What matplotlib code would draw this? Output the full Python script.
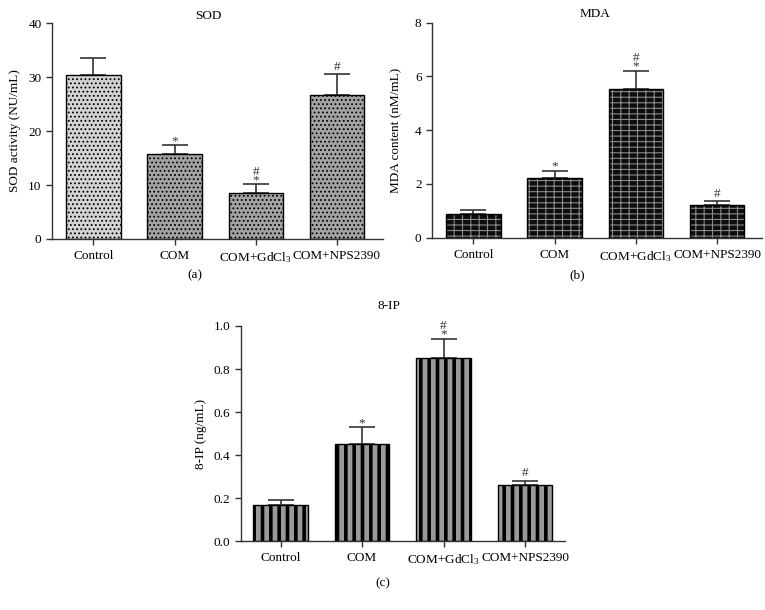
import matplotlib
matplotlib.use('Agg')
import matplotlib.pyplot as plt
import numpy as np

plt.rcParams['font.family'] = ['Liberation Serif', 'DejaVu Serif']
plt.rcParams['mathtext.fontset'] = 'custom'
plt.rcParams['mathtext.rm'] = 'Liberation Serif'
plt.rcParams['mathtext.default'] = 'rm'

groups = ['Control', 'COM', 'COM+GdCl$_3$', 'COM+NPS2390']

sod_mean = [30.4, 15.7, 8.5, 26.7]
sod_err = [3.1, 1.7, 1.6, 3.8]
sod_marks = ['', '*', '#\n*', '#']

mda_mean = [0.88, 2.22, 5.55, 1.2]
mda_err = [0.14, 0.28, 0.67, 0.15]
mda_marks = ['', '*', '#\n*', '#']

ip_mean = [0.17, 0.45, 0.85, 0.26]
ip_err = [0.02, 0.08, 0.09, 0.02]
ip_marks = ['', '*', '#\n*', '#']

fs = 9.5


def bars(ax, means, face, hatch, hatch_color, hatch_lw):
    plt.rcParams['hatch.linewidth'] = hatch_lw
    x = np.arange(len(means))
    b = ax.bar(x, means, width=0.67, color=face, edgecolor=hatch_color,
               hatch=hatch, linewidth=0, zorder=2)
    for p in b:
        if hasattr(p, 'set_hatch_linewidth'):
            p.set_hatch_linewidth(hatch_lw)
    # black outline on top
    ax.bar(x, means, width=0.67, fill=False, edgecolor='black',
           linewidth=1.0, zorder=3)


def panel(ax, means, errs, marks, ymax, yticks, ylabel, xlim, lpad):
    x = np.arange(len(means))
    ax.errorbar(x, means, yerr=[np.zeros(len(errs)), errs], fmt='none',
                ecolor='#333333', elinewidth=1.2, capsize=9.7, capthick=1.2,
                zorder=1)
    for i, m in enumerate(marks):
        top = means[i] + errs[i]
        if not m:
            continue
        # '*' sits high in the font, '#' sits on the baseline
        off = 3.3 if m == '#' else 0.8
        ax.annotate(m, (i, top), xytext=(0, off), textcoords='offset points',
                    ha='center', va='baseline', fontsize=9.5, color='#333333',
                    linespacing=0.6, multialignment='center')
    ax.set_ylim(0, ymax)
    ax.set_xlim(*xlim)
    ax.set_yticks(yticks)
    ax.set_xticks(x)
    ax.set_xticklabels(groups, fontsize=fs)
    ax.tick_params(axis='y', labelsize=fs, length=4, width=1, direction='out',
                   color='#333333')
    ax.tick_params(axis='x', length=4.5, width=1, direction='out', color='#333333')
    ax.set_ylabel(ylabel, fontsize=fs, labelpad=lpad)
    for s in ['top', 'right']:
        ax.spines[s].set_visible(False)
    for s in ['left', 'bottom']:
        ax.spines[s].set_linewidth(1.0)
        ax.spines[s].set_color('#333333')


fig = plt.figure(figsize=(7.65, 6.10), dpi=100)

ax1 = fig.add_axes([0.068, 0.6082, 0.433, 0.354])
bars(ax1, sod_mean[:1], '#d3d3d3', '....', 'black', 0.8)
ax1.bar(np.arange(1, 4), sod_mean[1:], width=0.67, color='#a3a3a3',
        edgecolor='black', hatch='....', linewidth=0, zorder=2)
ax1.bar(np.arange(1, 4), sod_mean[1:], width=0.67, fill=False,
        edgecolor='black', linewidth=1.0, zorder=3)
panel(ax1, sod_mean, sod_err, sod_marks, 40, [0, 10, 20, 30, 40],
      'SOD activity (NU/mL)', (-0.51, 3.57), 5)

ax2 = fig.add_axes([0.5647, 0.6103, 0.431, 0.3525])
bars(ax2, mda_mean, '#0d0d0d', '---||', '#8a8a8a', 0.8)
panel(ax2, mda_mean, mda_err, mda_marks, 8, [0, 2, 4, 6, 8],
      'MDA content (nM/mL)', (-0.51, 3.55), 9)

ax3 = fig.add_axes([0.315, 0.1126, 0.4235, 0.353])
plt.rcParams['hatch.linewidth'] = 2.6
x3 = np.arange(len(ip_mean))
b3 = ax3.bar(x3, ip_mean, width=0.67, color='#9a9a9a', edgecolor='black',
             hatch='||', linewidth=0, zorder=2)
for p in b3:
    if hasattr(p, 'set_hatch_linewidth'):
        p.set_hatch_linewidth(2.6)
ax3.bar(x3, ip_mean, width=0.67, fill=False, edgecolor='black',
        linewidth=1.0, zorder=3)
panel(ax3, ip_mean, ip_err, ip_marks, 1.0, [0.0, 0.2, 0.4, 0.6, 0.8, 1.0],
      '8-IP (ng/mL)', (-0.485, 3.49), 5)
ax3.set_yticklabels(['0.0', '0.2', '0.4', '0.6', '0.8', '1.0'])

fig.text(0.272, 0.973, 'SOD', ha='center', va='center', fontsize=fs)
fig.text(0.778, 0.977, 'MDA', ha='center', va='center', fontsize=fs)
fig.text(0.508, 0.498, '8-IP', ha='center', va='center', fontsize=fs)

fig.text(0.255, 0.548, '(a)', ha='center', va='center', fontsize=fs)
fig.text(0.754, 0.548, '(b)', ha='center', va='center', fontsize=fs)
fig.text(0.501, 0.044, '(c)', ha='center', va='center', fontsize=fs)

fig.savefig('out.png', dpi=100)
